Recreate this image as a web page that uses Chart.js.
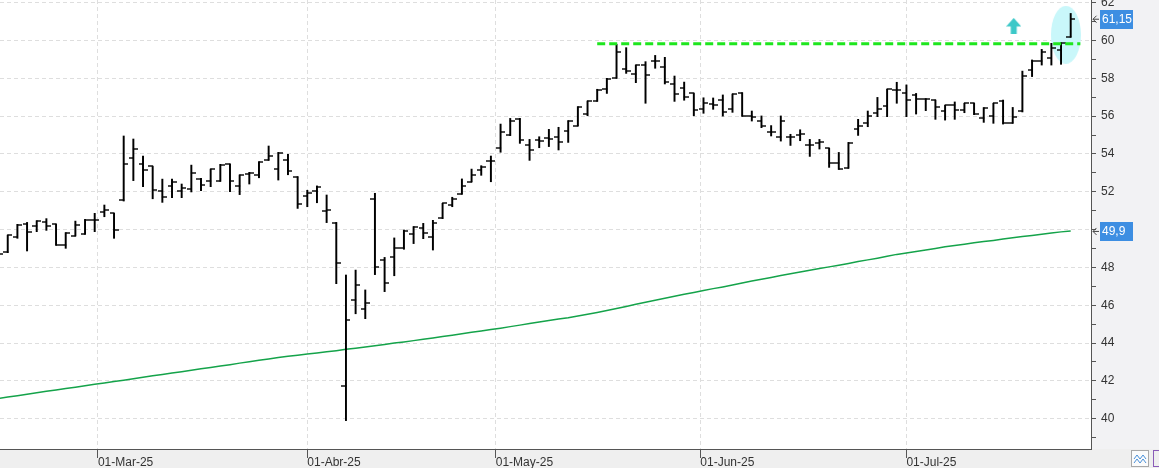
<!DOCTYPE html>
<html>
<head>
<meta charset="utf-8">
<script src="https://cdn.jsdelivr.net/npm/chart.js@4.4.1/dist/chart.umd.min.js"></script>
<style>
  html, body { margin: 0; padding: 0; background: #f1f1f3; }
  canvas { display: block; }
</style>
</head>
<body>
<canvas id="grafico" width="1159" height="468"></canvas>
<script>
// una sesion por posicion: 14-Feb-25 ... 24-Jul-25
var aperturas = [48.95, 48.83, 49.63, 50.30, 50.19, 50.40, 50.28, 49.18, 49.66, 49.77,
  50.52, 50.91, 50.86, 51.56, 53.77, 53.49, 53.34, 52.02, 52.29, 52.02,
  52.13, 52.67, 52.55, 52.55, 53.45, 52.29, 52.94, 52.87, 53.70, 53.22,
  53.68, 52.78, 51.76, 52.06, 51.00, 50.37, 41.73, 46.28, 45.80, 51.62,
  48.37, 48.53, 49.04, 49.77, 50.10, 49.59, 50.63, 51.32, 51.88, 52.53,
  53.15, 53.63, 54.30, 54.99, 55.85, 54.46, 54.72, 54.86, 54.91, 55.21,
  55.48, 56.13, 56.80, 57.42, 58.00, 58.47, 58.23, 58.69, 58.90, 58.60,
  57.68, 57.50, 57.20, 56.37, 56.62, 56.83, 56.36, 57.24, 56.01, 55.76,
  55.16, 54.91, 54.91, 55.00, 54.49, 54.60, 54.30, 53.50, 53.24, 55.32,
  55.65, 56.15, 56.53, 57.38, 57.20, 57.12, 56.89, 56.85, 56.27, 56.57,
  56.32, 56.68, 55.88, 56.01, 56.82, 55.65, 56.25, 58.44, 58.91, 59.09,
  59.50, 60.17];
var maximos = [49.10, 49.71, 50.28, 50.38, 50.47, 50.58, 50.29, 49.84, 50.45, 50.54,
  50.86, 51.30, 50.86, 54.95, 54.79, 53.89, 53.34, 52.67, 52.67, 52.41,
  53.41, 52.71, 53.20, 53.45, 53.47, 52.89, 53.03, 53.59, 54.42, 54.08,
  53.98, 52.80, 52.08, 52.31, 51.83, 50.38, 47.60, 47.86, 46.81, 51.92,
  48.53, 49.56, 49.98, 50.16, 50.33, 50.49, 51.39, 51.71, 52.68, 53.20,
  53.38, 53.89, 55.58, 55.88, 55.88, 54.77, 54.91, 55.30, 55.41, 55.76,
  56.50, 56.80, 57.42, 58.00, 59.80, 59.62, 58.70, 58.88, 59.21, 59.11,
  58.12, 57.80, 57.20, 56.97, 56.96, 57.12, 57.17, 57.24, 56.27, 56.01,
  55.50, 56.01, 55.04, 55.28, 54.77, 54.77, 54.30, 54.08, 54.61, 55.83,
  56.27, 56.99, 57.42, 57.79, 57.65, 57.20, 56.92, 56.85, 56.57, 56.75,
  56.68, 56.68, 56.45, 56.68, 56.85, 56.46, 58.38, 58.97, 59.53, 59.85,
  59.88, 61.43];
var minimos = [48.55, 48.78, 49.54, 48.87, 49.89, 49.96, 49.17, 49.01, 49.66, 49.75,
  49.89, 50.68, 49.54, 51.51, 52.59, 52.27, 51.63, 51.44, 51.69, 51.69,
  51.99, 52.06, 52.27, 52.55, 52.00, 51.85, 52.41, 52.74, 53.66, 52.62,
  52.90, 51.12, 51.21, 51.42, 50.37, 47.14, 39.90, 45.55, 45.29, 47.62,
  46.72, 47.56, 48.96, 49.26, 49.52, 48.92, 50.58, 51.21, 51.87, 52.52,
  52.87, 52.53, 54.09, 54.97, 54.56, 53.66, 54.33, 54.39, 54.21, 54.61,
  55.48, 56.02, 56.78, 57.20, 58.00, 58.26, 57.77, 56.68, 58.53, 57.70,
  56.78, 56.84, 56.02, 56.15, 56.36, 56.00, 56.20, 55.99, 55.74, 55.39,
  54.95, 54.68, 54.45, 54.70, 53.87, 54.26, 53.29, 53.18, 53.24, 54.98,
  55.44, 55.97, 55.97, 56.68, 55.97, 56.11, 56.29, 55.83, 55.79, 55.83,
  56.18, 56.08, 55.67, 55.62, 55.58, 55.62, 56.22, 58.09, 58.70, 58.70,
  58.74, 60.17];
var cierres = [48.73, 49.70, 50.24, 49.85, 50.45, 50.19, 49.18, 49.80, 50.22, 50.51,
  50.49, 51.03, 49.96, 53.49, 54.24, 53.17, 52.08, 51.74, 52.52, 52.20,
  53.01, 52.34, 53.18, 53.43, 52.55, 52.87, 52.99, 53.56, 53.89, 54.05,
  53.10, 51.34, 51.94, 52.27, 51.02, 48.22, 45.22, 47.05, 46.10, 48.02,
  47.19, 49.01, 49.94, 50.14, 49.84, 50.37, 51.39, 51.62, 52.31, 52.89,
  53.33, 53.63, 55.14, 55.74, 54.74, 54.19, 54.70, 54.77, 54.65, 55.74,
  56.50, 56.80, 57.40, 57.98, 59.39, 58.40, 58.69, 58.19, 58.90, 57.80,
  57.17, 57.03, 56.30, 56.69, 56.59, 56.23, 57.17, 55.99, 55.97, 55.48,
  55.16, 55.72, 54.88, 55.04, 54.46, 54.61, 53.50, 53.22, 54.58, 55.50,
  56.01, 56.39, 57.42, 57.38, 56.85, 56.90, 56.89, 56.46, 56.57, 56.32,
  56.68, 56.10, 56.45, 56.68, 55.64, 55.94, 58.12, 58.91, 59.37, 59.60,
  59.88, 61.15];
var media = [41.07, 41.15, 41.22, 41.30, 41.37, 41.45, 41.52, 41.60, 41.67, 41.75,
  41.82, 41.89, 41.97, 42.04, 42.12, 42.19, 42.27, 42.34, 42.42, 42.49,
  42.56, 42.64, 42.71, 42.79, 42.86, 42.94, 43.01, 43.09, 43.16, 43.24,
  43.30, 43.36, 43.42, 43.48, 43.54, 43.60, 43.67, 43.73, 43.79, 43.86,
  43.93, 44.00, 44.06, 44.13, 44.20, 44.27, 44.35, 44.42, 44.49, 44.57,
  44.64, 44.72, 44.79, 44.87, 44.95, 45.03, 45.11, 45.19, 45.27, 45.34,
  45.43, 45.53, 45.62, 45.72, 45.83, 45.94, 46.05, 46.16, 46.27, 46.37,
  46.48, 46.58, 46.68, 46.78, 46.88, 46.97, 47.07, 47.18, 47.28, 47.37,
  47.47, 47.57, 47.66, 47.76, 47.85, 47.94, 48.03, 48.12, 48.21, 48.31,
  48.40, 48.49, 48.59, 48.69, 48.76, 48.84, 48.92, 49.00, 49.09, 49.16,
  49.23, 49.30, 49.37, 49.43, 49.50, 49.57, 49.63, 49.69, 49.76, 49.82,
  49.88, 49.93];

var mesesPos = [10.33, 32, 51.5, 72.67, 94];
var mesesTexto = ["01-Mar-25", "01-Abr-25", "01-May-25", "01-Jun-25", "01-Jul-25"];

var resistencia = 59.83;
var resistenciaDesde = 62;
var resistenciaHasta = 112;
var flecha = [105.1, 60.77];
var elipse = [110.5, 60.3];

var fuente = '"Liberation Sans", Arial, sans-serif';

function puntos(lista) {
  return lista.map(function (v, i) { return {x: i, y: v}; });
}

// imagenes para los guiones de apertura y cierre
function guion(izquierda) {
  var c = document.createElement('canvas');
  c.width = 9; c.height = 2;
  var g = c.getContext('2d');
  g.fillStyle = '#000';
  if (izquierda) g.fillRect(0, 0.3, 5, 1.4); else g.fillRect(4, 0.3, 5, 1.4);
  return c;
}

function dibujoFlecha() {
  var c = document.createElement('canvas');
  c.width = 15; c.height = 16;
  var g = c.getContext('2d');
  g.fillStyle = '#3cc8c8';
  g.beginPath();
  g.moveTo(7.5, 0); g.lineTo(15, 8.5); g.lineTo(0, 8.5); g.closePath();
  g.fill();
  g.fillRect(4.5, 8, 6, 8);
  return c;
}

function dibujoElipse() {
  var c = document.createElement('canvas');
  c.width = 30; c.height = 58;
  var g = c.getContext('2d');
  g.fillStyle = '#c9f7fa';
  g.beginPath();
  g.ellipse(15, 29, 15, 29, 0, 0, Math.PI * 2);
  g.fill();
  return c;
}

function formato(v, dec) {
  return String(Number(v.toFixed(dec))).replace('.', ',');
}

function etiqueta(c, x0, py, texto) {
  c.save();
  c.fillStyle = '#3d8ee2';
  c.fillRect(x0 + 9, Math.round(py) - 9, 33, 19);
  c.fillStyle = '#fff';
  c.font = '12px ' + fuente;
  c.textBaseline = 'middle';
  c.textAlign = 'left';
  c.fillText(texto, x0 + 11, py + 1);
  c.strokeStyle = '#444';
  c.lineWidth = 1;
  c.beginPath();
  c.moveTo(x0 + 5.5, py - 3); c.lineTo(x0 + 2, py + 0.5); c.lineTo(x0 + 5.5, py + 4);
  c.moveTo(x0 + 2, py + 0.5); c.lineTo(x0 + 8, py + 0.5);
  c.stroke();
  c.restore();
}

var marco = {
  id: 'marco',
  beforeDraw: function (chart) {
    var c = chart.ctx, a = chart.chartArea;
    c.save();
    c.fillStyle = '#f2f2f4';
    c.fillRect(0, 0, chart.width, chart.height);
    c.fillStyle = '#efefef';
    c.fillRect(0, a.bottom, chart.width, chart.height - a.bottom);
    c.fillStyle = '#ffffff';
    c.fillRect(a.left, a.top, a.right - a.left, a.bottom - a.top);
    c.restore();
  },
  afterDraw: function (chart) {
    var c = chart.ctx, a = chart.chartArea, y = chart.scales.y;
    var n = cierres.length - 1;
    etiqueta(c, a.right, y.getPixelForValue(cierres[n]), formato(cierres[n], 2));
    etiqueta(c, a.right, y.getPixelForValue(media[n]), formato(media[n], 1));
    // botones de la esquina
    c.save();
    c.fillStyle = '#fbfbfb';
    c.strokeStyle = '#a8a8a8';
    c.fillRect(1131.5, 450.5, 17, 16);
    c.strokeRect(1131.5, 450.5, 17, 16);
    c.strokeStyle = '#4a90d9';
    c.beginPath();
    c.moveTo(1134, 459); c.lineTo(1137, 455); c.lineTo(1140, 459); c.lineTo(1143, 455); c.lineTo(1146, 459);
    c.moveTo(1134, 463); c.lineTo(1137, 459); c.lineTo(1140, 463); c.lineTo(1143, 459); c.lineTo(1146, 463);
    c.stroke();
    c.strokeStyle = '#8a5cb8';
    c.strokeRect(1153.5, 450.5, 8, 16);
    c.restore();
  }
};

var rango = maximos.map(function (h, i) { return {x: i, y: [minimos[i], h]}; });

new Chart(document.getElementById('grafico'), {
  type: 'bar',
  data: {
    datasets: [
      {
        type: 'line',
        data: [{x: resistenciaDesde, y: resistencia}, {x: resistenciaHasta, y: resistencia}],
        borderColor: '#1ee61e',
        borderWidth: 3,
        borderDash: [8, 4],
        pointRadius: 0,
        order: 1
      },
      {
        type: 'bar',
        data: rango,
        backgroundColor: '#000',
        borderWidth: 0,
        barThickness: 1.3,
        order: 2
      },
      {
        type: 'line',
        data: puntos(aperturas),
        showLine: false,
        pointStyle: guion(true),
        pointRadius: 1,
        order: 2
      },
      {
        type: 'line',
        data: puntos(cierres),
        showLine: false,
        pointStyle: guion(false),
        pointRadius: 1,
        order: 2
      },
      {
        type: 'line',
        data: puntos(media),
        borderColor: '#14a34a',
        borderWidth: 1.5,
        pointRadius: 0,
        order: 3
      },
      {
        type: 'line',
        data: [{x: flecha[0], y: flecha[1]}],
        showLine: false,
        pointStyle: dibujoFlecha(),
        pointRadius: 1,
        order: 4
      },
      {
        type: 'line',
        data: [{x: elipse[0], y: elipse[1]}],
        showLine: false,
        pointStyle: dibujoElipse(),
        pointRadius: 1,
        order: 5
      }
    ]
  },
  options: {
    responsive: false,
    animation: false,
    events: [],
    layout: { padding: 0, autoPadding: false },
    plugins: {
      legend: { display: false },
      tooltip: { enabled: false }
    },
    scales: {
      x: {
        type: 'linear',
        min: 0.2,
        max: 113.1,
        offset: false,
        afterBuildTicks: function (s) {
          s.ticks = mesesPos.map(function (v) { return {value: v}; });
        },
        afterFit: function (s) {
          s.height = 19;
          s.paddingLeft = 0;
          s.paddingRight = 0;
        },
        ticks: {
          autoSkip: false,
          maxRotation: 0,
          align: 'start',
          padding: -3,
          color: '#333',
          font: { family: fuente, size: 12 },
          callback: function (v, i) { return mesesTexto[i]; }
        },
        grid: { offset: false, color: '#dedede', tickColor: '#555', tickLength: 9 },
        border: { color: '#555', dash: [4, 3] }
      },
      y: {
        position: 'right',
        min: 38.4,
        max: 62.14,
        afterFit: function (s) {
          s.width = 68;
          s.paddingTop = 0;
          s.paddingBottom = 0;
        },
        ticks: {
          stepSize: 1,
          includeBounds: false,
          autoSkip: false,
          padding: 5,
          color: '#333',
          font: { family: fuente, size: 12 },
          callback: function (v) { return v % 2 === 0 ? String(v) : ''; }
        },
        grid: {
          color: function (ctx) {
            return ctx.tick && ctx.tick.value % 2 === 0 ? '#dedede' : 'rgba(0,0,0,0)';
          },
          tickColor: '#555',
          tickLength: 5
        },
        border: { color: '#555', dash: [4, 3] }
      }
    }
  },
  plugins: [marco]
});
</script>
</body>
</html>
